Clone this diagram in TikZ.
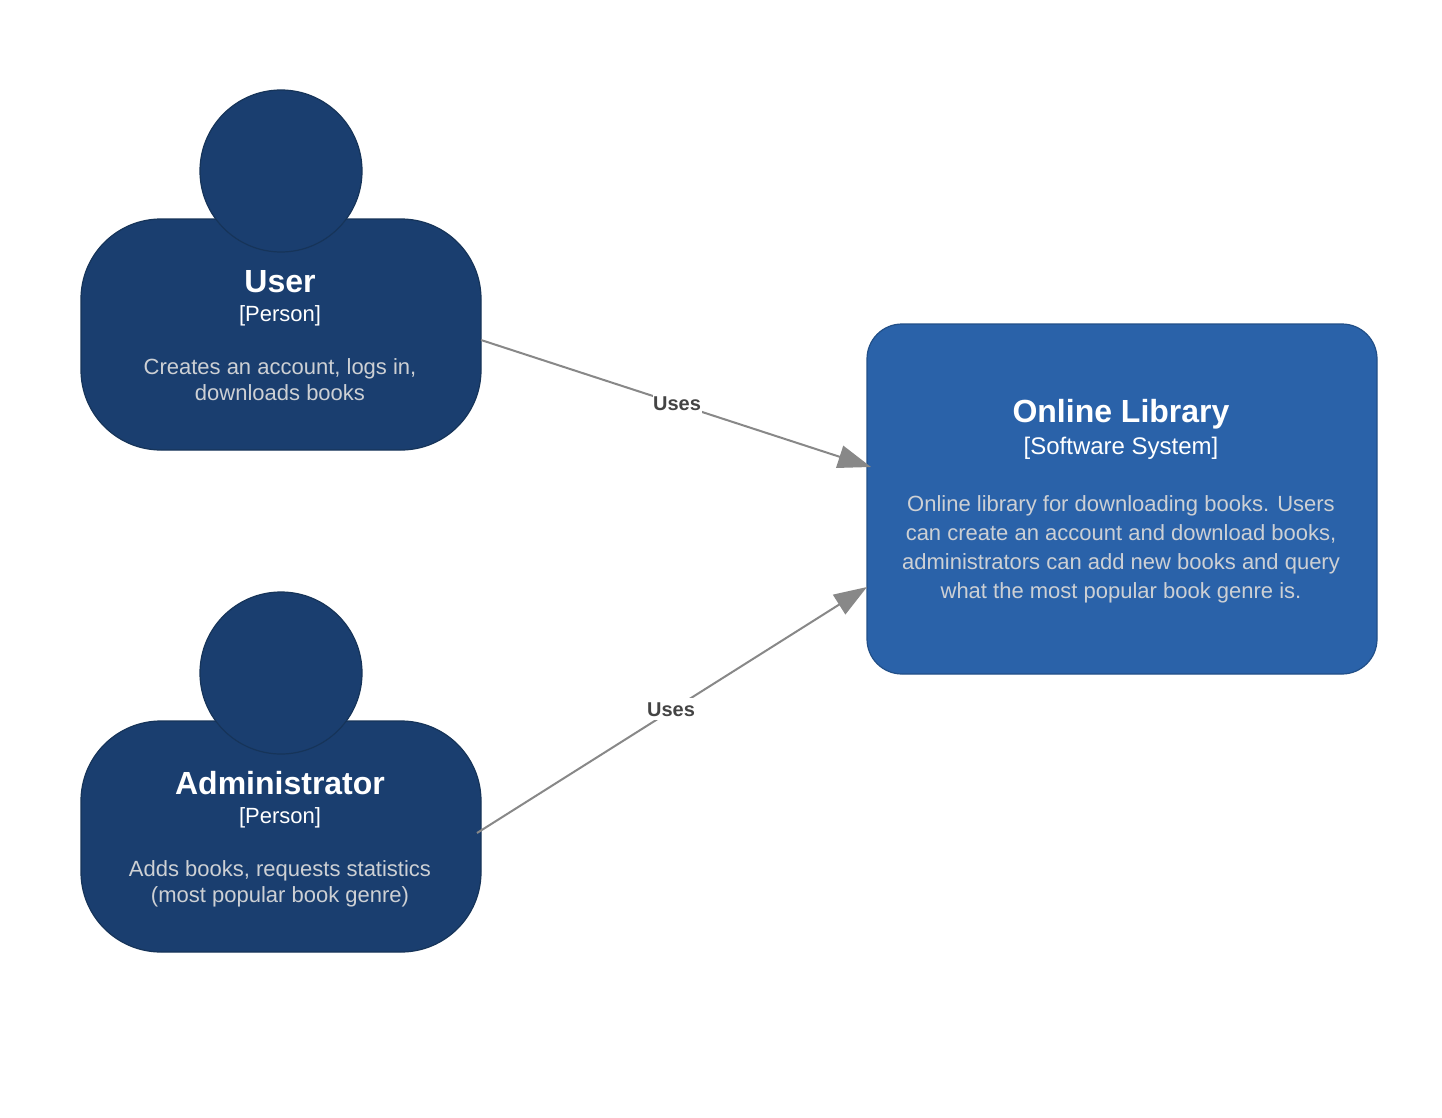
\documentclass[tikz,border=0pt]{standalone}
\usepackage{fontspec}
\setmainfont{Liberation Sans}
\usetikzlibrary{arrows.meta,calc}
\definecolor{personfill}{HTML}{1A3E6F}
\definecolor{personedge}{HTML}{163459}
\definecolor{systemfill}{HTML}{2A62A9}
\definecolor{systemedge}{HTML}{214F88}
\definecolor{desctext}{HTML}{CDD0D4}
\definecolor{linkgrey}{HTML}{888888}
\definecolor{linktext}{HTML}{444444}
\tikzset{
  personbody/.style={draw=personedge,fill=personfill,line width=1.2pt,rectangle,rounded corners=80pt,minimum width=400pt,minimum height=231pt,inner sep=0pt,outer sep=0pt},
  personhead/.style={draw=personedge,fill=personfill,line width=1.2pt,circle,minimum size=162pt,inner sep=0pt,outer sep=0pt},
  systembox/.style={draw=systemedge,fill=systemfill,line width=1.2pt,rectangle,rounded corners=35pt,minimum width=510pt,minimum height=350pt,inner sep=0pt,outer sep=0pt},
  titletext/.style={text=white,font=\fontsize{32}{36}\selectfont\bfseries,inner sep=0pt,anchor=base},
  typetext/.style={text=white,font=\fontsize{22}{26}\selectfont,inner sep=0pt,anchor=base},
  typetextbig/.style={text=white,font=\fontsize{24}{28}\selectfont,inner sep=0pt,anchor=base},
  persondesc/.style={text=desctext,font=\fontsize{22}{26}\selectfont,align=center,inner sep=0pt},
  systemdesc/.style={text=desctext,font=\fontsize{22}{29}\selectfont,align=center,inner sep=0pt},
  link/.style={draw=linkgrey,line width=2pt,-{Triangle[length=33pt,width=23pt,fill=linkgrey]}},
  linklabel/.style={text=linktext,fill=white,font=\fontsize{20}{24}\selectfont\bfseries,inner sep=0pt,text height=18.15pt,text depth=3.85pt,minimum width=49pt},
}
\begin{document}
\begin{tikzpicture}[x=1pt,y=-1pt]
\useasboundingbox (0,0) rectangle (1442,1118);
\fill[white] (0,0) rectangle (1442,1118);
% User
\node[personbody] (userbody) at (281,334.5) {};
\node[personhead] (userhead) at (281,171) {};
\node[titletext] (usertitle) at (280,292) {User};
\node[typetext] (usertype) at (280,321) {[Person]};
\node[persondesc] (userdesc) at (280,379.2) {Creates an account, logs in,\\downloads books};
% Administrator
\node[personbody] (adminbody) at (281,836.5) {};
\node[personhead] (adminhead) at (281,673) {};
\node[titletext] (admintitle) at (280,794) {Administrator};
\node[typetext] (admintype) at (280,823) {[Person]};
\node[persondesc] (admindesc) at (280,883.5) {Adds books, requests statistics\\(most popular book genre)};
% Online Library
\node[systembox] (library) at (1122,499) {};
\node[titletext] (libtitle) at (1121,422) {Online Library};
\node[typetextbig] (libtype) at (1121,454) {[Software System]};
\node[systemdesc] (libdesc) at (1121,549.5) {Online library for downloading books. Users\\can create an account and download books,\\administrators can add new books and query\\what the most popular book genre is.};
% Connectors
\draw[link] ($(userbody.east)+(0,5.5)$) -- ($(library.west)+(4,-32)$) node[linklabel,pos=0.5,xshift=1pt] (uselabel1) {Uses};
\draw[link] ($(adminbody.east)+(-4,-3.5)$) -- ($(library.west)+(0,88)$) node[linklabel,pos=0.495,xshift=1pt,yshift=2pt] (uselabel2) {Uses};
\end{tikzpicture}
\end{document}
